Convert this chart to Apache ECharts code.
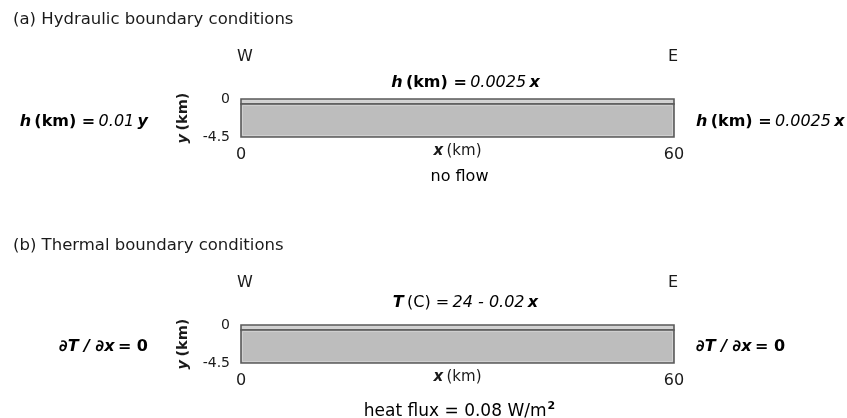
<!DOCTYPE html>
<html>
<head>
<meta charset="utf-8">
<script src="https://cdn.jsdelivr.net/npm/echarts@6/dist/echarts.min.js"></script>
<style>
html,body{margin:0;padding:0;background:#fff;}
#chart{width:847px;height:418px;}
</style>
</head>
<body>
<div id="chart"></div>
<script>
// ---- data ----
const panelTitles = ['(a) Hydraulic boundary conditions', '(b) Thermal boundary conditions'];
const xExtent = [0, 60];          // km
const yExtent = [-4.5, 0];        // km
const layerTops = [0, -0.6];      // km (thin top layer, main body)
const layerBottoms = [-0.6, -4.5];
const westLabel = 'W';
const eastLabel = 'E';
const topConditions = [
  '{bi|h} {b|(km) =} {i|0.0025} {bi|x}',
  '{bi|T} {n|(C) =} {i|24 - 0.02} {bi|x}'
];
const leftConditions = [
  '{bi|h} {b|(km) =} {i|0.01} {bi|y}',
  '{bi|∂T / ∂x} {b|= 0}'
];
const rightConditions = [
  '{bi|h} {b|(km) =} {i|0.0025} {bi|x}',
  '{bi|∂T / ∂x} {b|= 0}'
];
const bottomConditions = [
  '{n|no flow}',
  '{m|heat flux = 0.08 W/m}{sup|2}'
];

// ---- layout ----
const FONT = '"DejaVu Sans", "Liberation Sans", Arial, sans-serif';
const TXT = '#1a1a1a';
const FS = 16;
const gridLeft = 241, gridWidth = 433, gridHeight = 38;
const gridTops = [99, 325];
const topOffsets = [-16, -22];
const sideOffsets = [4, 3];
const bottomOffsets = [78, 87];

const rich = {
  n:  {fontFamily: FONT, fontSize: FS, color: TXT},
  m:  {fontFamily: FONT, fontSize: 17, lineHeight: 22, color: TXT, fontWeight: 500},
  b:  {fontFamily: FONT, fontSize: FS, color: TXT, fontWeight: 'bold'},
  i:  {fontFamily: FONT, fontSize: FS, color: TXT, fontStyle: 'italic'},
  bi: {fontFamily: FONT, fontSize: FS, color: TXT, fontStyle: 'italic', fontWeight: 'bold'},
  sup:{fontFamily: FONT, fontSize: 11, lineHeight: 11, color: TXT, fontWeight: 'bold', verticalAlign: 'top', padding: [0, 0, 0, 1]}
};

const grids = [], xAxes = [], yAxes = [], series = [], graphics = [];
gridTops.forEach((top, p) => {
  grids.push({left: gridLeft, width: gridWidth, top: top, height: gridHeight});
  xAxes.push({
    type: 'value', gridIndex: p, min: xExtent[0], max: xExtent[1], interval: 60,
    axisLine: {show: false}, axisTick: {show: false}, splitLine: {show: false},
    axisLabel: {fontFamily: FONT, fontSize: 16, color: TXT, margin: 10},
    name: '{bi|x} {b|(km)}', nameLocation: 'middle', nameGap: 7, nameMoveOverlap: false,
    nameTextStyle: {rich: {
      bi: {fontFamily: FONT, fontSize: 15, color: TXT, fontStyle: 'italic', fontWeight: 'bold'},
      b:  {fontFamily: FONT, fontSize: 15, color: TXT, fontWeight: 500}}}
  });
  yAxes.push({
    type: 'value', gridIndex: p, min: yExtent[0], max: yExtent[1], interval: 4.5,
    axisLine: {show: false}, axisTick: {show: false}, splitLine: {show: false},
    axisLabel: {fontFamily: FONT, fontSize: 14, color: TXT, margin: 11, fontWeight: 500},
    name: '{bi|y} {b|(km)}', nameLocation: 'middle', nameGap: 50, nameRotate: 90, nameMoveOverlap: false,
    nameTextStyle: {rich: {
      bi: {fontFamily: FONT, fontSize: 14.5, color: TXT, fontStyle: 'italic', fontWeight: 'bold'},
      b:  {fontFamily: FONT, fontSize: 14.5, color: TXT, fontWeight: 'bold'}}}
  });
  const data = layerTops.map((t, k) => [xExtent[0], xExtent[1], t, layerBottoms[k], k]);
  series.push({
    type: 'custom', xAxisIndex: p, yAxisIndex: p, data: data,
    renderItem: function (params, api) {
      const p0 = api.coord([api.value(0), api.value(2)]);
      const p1 = api.coord([api.value(1), api.value(3)]);
      const isTop = api.value(4) === 0;
      const shape = {x: p0[0], y: p0[1], width: p1[0] - p0[0], height: p1[1] - p0[1]};
      return {
        type: 'group',
        children: [
          {type: 'rect', shape: shape, style: {fill: isTop ? '#d0d0d0' : '#bdbdbd', stroke: '#5a5a5a', lineWidth: 1.6}},
          {type: 'rect', shape: {x: shape.x + 1.5, y: shape.y + 1.5, width: shape.width - 3, height: shape.height - 3},
           style: {fill: null, stroke: '#d4d4d4', lineWidth: 0.8}}
        ]
      };
    }
  });

  const mid = top + gridHeight / 2;
  const cx = gridLeft + gridWidth / 2;
  graphics.push(
    {type: 'text', x: 13, y: top - 79, style: {text: panelTitles[p], font: '16.5px ' + FONT, fill: TXT, align: 'left', verticalAlign: 'middle'}},
    {type: 'text', x: gridLeft + 4, y: top - 42, style: {text: westLabel, font: '500 16px ' + FONT, fill: TXT, align: 'center', verticalAlign: 'middle'}},
    {type: 'text', x: gridLeft + gridWidth - 1, y: top - 42, style: {text: eastLabel, font: '500 16px ' + FONT, fill: TXT, align: 'center', verticalAlign: 'middle'}},
    {type: 'text', x: cx + 8, y: top + topOffsets[p], style: {text: topConditions[p], rich: rich, align: 'center', verticalAlign: 'middle'}},
    {type: 'text', x: 148, y: mid + sideOffsets[p], style: {text: leftConditions[p], rich: rich, align: 'right', verticalAlign: 'middle'}},
    {type: 'text', x: 696, y: mid + sideOffsets[p], style: {text: rightConditions[p], rich: rich, align: 'left', verticalAlign: 'middle'}},
    {type: 'text', x: cx + 2, y: top + bottomOffsets[p], style: {text: bottomConditions[p], rich: rich, align: 'center', verticalAlign: 'middle'}}
  );
});

const chart = echarts.init(document.getElementById('chart'), null, {renderer: 'canvas'});
chart.setOption({
  animation: false,
  backgroundColor: '#ffffff',
  grid: grids, xAxis: xAxes, yAxis: yAxes, series: series,
  graphic: graphics
});
</script>
</body>
</html>
